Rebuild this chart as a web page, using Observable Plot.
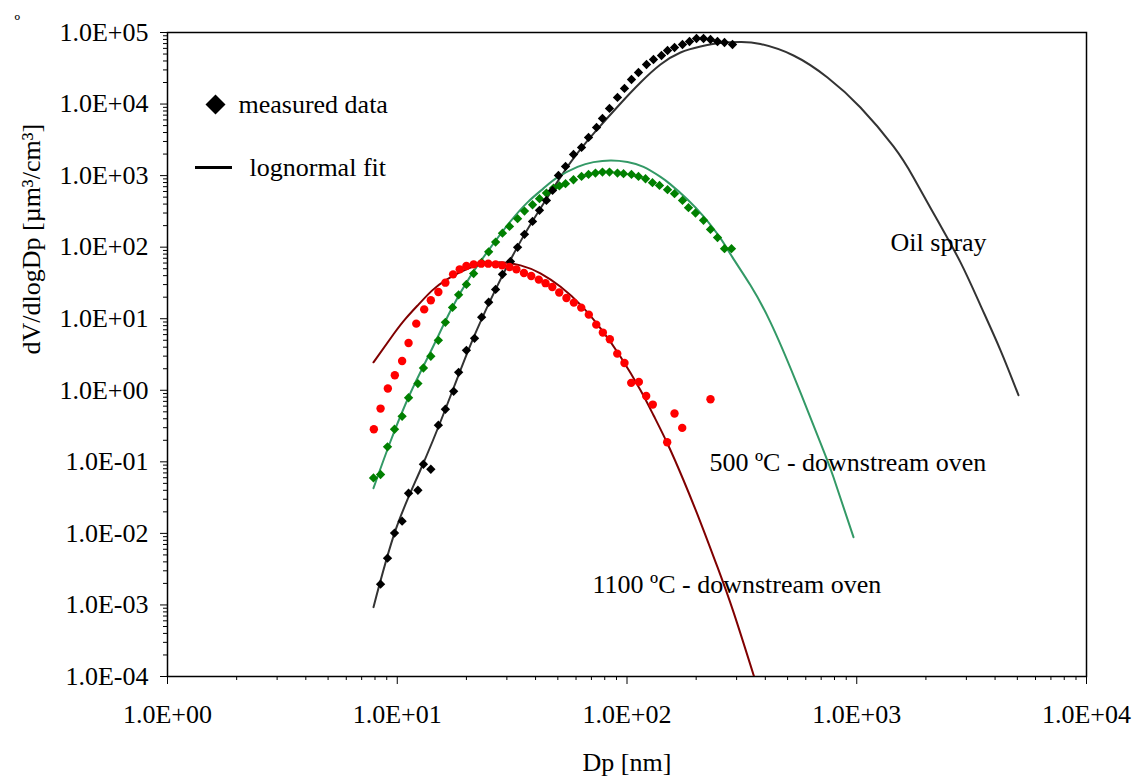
<!DOCTYPE html>
<html>
<head>
<meta charset="utf-8">
<script src="https://cdn.jsdelivr.net/npm/d3@7"></script>
<script src="https://cdn.jsdelivr.net/npm/@observablehq/plot@0.6"></script>
<style>
  body { margin: 0; background: #fff; }
  #chart { width: 1144px; height: 776px; }
</style>
</head>
<body>
<div id="chart"></div>
<script>
// ---- Oil spray: measured (black diamonds) ----
const oilDp = [8.46, 9.07, 9.73, 10.5, 11.2, 12.3, 13.0, 14.0, 15.1, 16.2, 17.6, 18.5, 20.0, 21.7, 23.3, 25.0, 26.8, 28.7, 31.1, 33.4, 35.8, 38.8, 41.6, 44.6, 47.4, 50.3, 54.0, 58.5, 63.4, 68.0, 73.7, 78.2, 83.9, 90.9, 97.5, 104.6, 112.2, 121.6, 130.4, 141.3, 150.1, 161.0, 174.4, 187.1, 200.7, 215.3, 230.9, 247.7, 265.7, 287.9];
const oilV = [0.00195, 0.0045, 0.0101, 0.0148, 0.0364, 0.0401, 0.0926, 0.0788, 0.325, 0.543, 0.968, 1.78, 3.62, 5.32, 10.5, 17.0, 25.7, 41.7, 63.3, 99.4, 151, 229, 327, 450, 621, 1006, 1344, 1978, 2477, 3416, 4711, 6295, 8679, 12370, 16520, 22060, 27630, 35730, 41980, 47730, 56060, 61740, 67990, 74880, 82470, 82470, 79850, 74880, 72480, 67990];
// ---- Oil spray: lognormal fit ----
const oilFitDp = [7.88, 9.83, 12.6, 16.2, 20.8, 26.8, 34.4, 44.2, 56.8, 72.9, 93.7, 114.5, 139.9, 171.0, 208.9, 255.3, 311.9, 381.1, 530.5, 745.8, 1038, 1445, 1766, 2246, 2829, 3456, 4224, 5058];
const oilFitV = [0.000932, 0.0111, 0.0763, 0.543, 4.25, 25.7, 120.5, 450, 1529, 4142, 10190, 20030, 35730, 52560, 63740, 71330, 73650, 69090, 47730, 23530, 8965, 2557, 944, 237, 61.3, 15.4, 3.62, 0.852];

// ---- 500 °C: measured (green diamonds) ----
const c500Dp = [7.88, 8.46, 9.07, 9.73, 10.5, 11.2, 12.3, 13.0, 14.0, 15.1, 16.2, 17.4, 18.5, 20.0, 21.5, 23.3, 25.0, 26.8, 28.7, 30.8, 33.4, 35.8, 38.8, 41.6, 44.6, 47.9, 50.8, 54.0, 58.5, 63.4, 68.0, 72.9, 78.2, 83.9, 90.9, 96.6, 104.6, 112.2, 120.4, 129.1, 138.5, 150.1, 161.0, 174.4, 185.2, 198.7, 215.3, 230.9, 247.7, 265.7, 285.0];
const c500V = [0.0596, 0.0665, 0.162, 0.285, 0.433, 0.786, 1.24, 2.05, 2.99, 4.99, 8.91, 14.4, 21.6, 30.2, 42.7, 61.3, 86.0, 117.8, 157, 195, 250, 319, 392, 476, 570, 669, 718, 771, 876, 975, 1039, 1084, 1119, 1119, 1084, 1063, 1039, 975, 905, 796, 730, 636, 559, 450, 356, 300, 237, 177, 136, 95.3, 95.3];
// ---- 500 °C: lognormal fit ----
const c500FitDp = [7.88, 9.35, 11.4, 14.0, 17.1, 20.8, 25.5, 31.1, 36.9, 43.3, 49.8, 60.9, 71.5, 84.8, 100.5, 118.0, 139.9, 154.6, 183.4, 215.3, 255.3, 287.9, 344.7, 421.3, 541.3, 695.7, 792.0, 968.0];
const c500FitV = [0.0428, 0.194, 0.908, 3.51, 13.1, 39.1, 99.4, 229, 423, 663, 944, 1327, 1544, 1630, 1554, 1323, 959, 754, 465, 269, 132.7, 72.0, 29.3, 8.91, 1.38, 0.182, 0.0609, 0.00885];

// ---- 1100 °C: measured (red dots) ----
const c1100Dp = [7.91, 8.46, 9.10, 9.76, 10.5, 11.2, 12.1, 13.1, 14.0, 15.1, 16.2, 17.5, 18.7, 20.0, 21.5, 23.2, 24.9, 26.8, 28.6, 30.8, 33.0, 35.6, 38.3, 41.3, 44.2, 47.3, 50.7, 54.5, 58.7, 63.2, 68.2, 73.5, 78.5, 84.2, 90.7, 97.5, 104.3, 112.6, 121.2, 129.5, 149.6, 161.0, 173.9, 230.9];
const c1100V = [0.285, 0.555, 1.06, 1.62, 2.57, 4.58, 8.54, 13.5, 18.1, 23.6, 31.9, 41.7, 49.0, 54.5, 57.5, 58.8, 58.8, 57.5, 55.7, 52.7, 49.0, 43.5, 39.5, 35.2, 31.4, 27.7, 23.2, 19.5, 16.8, 14.3, 11.4, 8.27, 6.40, 5.16, 3.25, 2.41, 1.27, 1.31, 0.833, 0.631, 0.188, 0.473, 0.298, 0.749];
// ---- 1100 °C: lognormal fit ----
const c1100FitDp = [7.88, 9.63, 10.9, 12.4, 14.2, 16.2, 18.9, 22.4, 27.6, 34.4, 42.0, 51.4, 62.8, 76.7, 93.7, 114.5, 130.4, 150.1, 176.2, 208.9, 247.7, 290.8, 362.5];
const c1100FitV = [2.46, 6.06, 10.1, 15.9, 24.9, 34.4, 45.2, 55.7, 61.3, 55.7, 43.1, 27.9, 15.6, 7.34, 2.94, 1.00, 0.448, 0.179, 0.0553, 0.0143, 0.00337, 0.000793, 0.0000862];

// ---- Axis ticks ----
const xTicks = [1, 10, 100, 1000, 10000];
const yTicks = [1e-4, 1e-3, 1e-2, 1e-1, 1, 10, 100, 1000, 1e4, 1e5];
const minorMult = [2, 3, 4, 5, 6, 7, 8, 9];

// ---- Annotations ----
const seriesLabels = ["Oil spray", "500 ºC - downstream oven", "1100 ºC - downstream oven"];
const seriesLabelDp = [1403, 228.6, 70.8];
const seriesLabelV = [116.7, 0.0988, 0.00195];

const legendTexts = ["measured data", "lognormal fit"];

const rows = (xs, ys) => xs.map((x, i) => ({x, y: ys[i]}));
const fmt = d => {
  const e = Math.round(Math.log10(d));
  return "1.0E" + (e < 0 ? "-" : "+") + String(Math.abs(e)).padStart(2, "0");
};
const xMinor = xTicks.slice(0, -1).flatMap(d => minorMult.map(m => d * m));
const yMinor = yTicks.slice(0, -1).flatMap(d => minorMult.map(m => d * m));

const annotations = seriesLabels.map((t, i) => ({text: t, x: seriesLabelDp[i], y: seriesLabelV[i]}));

const chart = Plot.plot({
  width: 1144,
  height: 776,
  marginTop: 32,
  marginRight: 58,
  marginBottom: 100,
  marginLeft: 167,
  style: {fontFamily: "'Liberation Serif', 'Times New Roman', serif", fontSize: "26px", background: "#fff", color: "#000"},
  x: {type: "log", domain: [1, 1e4]},
  y: {type: "log", domain: [1e-4, 1e5]},
  marks: [
    Plot.axisX(xMinor, {tickSize: 4, tickFormat: () => "", label: null}),
    Plot.axisX(xTicks, {tickSize: 8, tickPadding: 20, tickFormat: fmt, label: null}),
    Plot.axisY(yMinor, {tickSize: 4, tickFormat: () => "", label: null}),
    Plot.axisY(yTicks, {tickSize: 7, tickPadding: 12, tickFormat: fmt, label: null}),
    Plot.frame({stroke: "#000", strokeWidth: 1.5}),
    // fits
    Plot.line(rows(oilFitDp, oilFitV), {x: "x", y: "y", stroke: "#333", strokeWidth: 2, curve: "natural", clip: true}),
    Plot.line(rows(c500FitDp, c500FitV), {x: "x", y: "y", stroke: "#339966", strokeWidth: 2, curve: "natural", clip: true}),
    Plot.line(rows(c1100FitDp, c1100FitV), {x: "x", y: "y", stroke: "#800000", strokeWidth: 2, curve: "natural", clip: true}),
    // measured
    Plot.dot(rows(c500Dp, c500V), {x: "x", y: "y", symbol: "diamond2", r: 4.2, fill: "#008000"}),
    Plot.dot(rows(oilDp, oilV), {x: "x", y: "y", symbol: "diamond2", r: 4.2, fill: "#000"}),
    Plot.dot(rows(c1100Dp, c1100V), {x: "x", y: "y", r: 4.2, fill: "#ff0000"}),
    // series labels
    Plot.text(annotations, {x: "x", y: "y", text: "text", textAnchor: "start", lineAnchor: "middle", fill: "#000"}),
    // legend
    Plot.dot([{x: 1.618, y: 9872}], {x: "x", y: "y", symbol: "diamond2", r: 9, fill: "#000"}),
    Plot.text([{x: 2.037, y: 9872, t: legendTexts[0]}], {x: "x", y: "y", text: "t", textAnchor: "start", lineAnchor: "middle"}),
    Plot.ruleY([1302], {x1: 1.324, x2: 1.918, stroke: "#000", strokeWidth: 3}),
    Plot.text([{x: 2.275, y: 1302, t: legendTexts[1]}], {x: "x", y: "y", text: "t", textAnchor: "start", lineAnchor: "middle"}),
    // axis titles
    Plot.text(["Dp [nm]"], {frameAnchor: "bottom", dy: 86, text: d => d, lineAnchor: "middle"}),
    Plot.text(["dV/dlogDp [µm³/cm³]"], {frameAnchor: "left", dx: -136, rotate: -90, text: d => d, lineAnchor: "middle"}),
    Plot.text(["º"], {frameAnchor: "top-left", dx: -153, dy: -18, text: d => d, fontSize: 18})
  ]
});
document.getElementById("chart").appendChild(chart);
</script>
</body>
</html>
